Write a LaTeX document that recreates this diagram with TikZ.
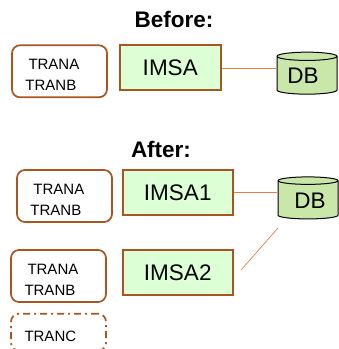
\documentclass[tikz,border=0pt]{standalone}
\usepackage{fontspec}
\setmainfont{Liberation Sans}
\usetikzlibrary{positioning,shapes.geometric}
\definecolor{boxbrown}{HTML}{A9551F}
\definecolor{imsagreen}{HTML}{DDFFD5}
\definecolor{dbgreen}{HTML}{C9E7A9}
\definecolor{linkorange}{HTML}{E8803F}
\begin{document}
\begin{tikzpicture}[x=1pt,y=1pt,
title/.style={font=\fontsize{22.5}{24}\selectfont\bfseries,inner sep=0pt},
tranbox/.style={draw=boxbrown,line width=1.7pt,rectangle,rounded corners=8pt,minimum width=95pt,minimum height=52pt,inner xsep=13pt,inner ysep=0pt,text width=68pt,align=left,font=\fontsize{15}{21}\selectfont,execute at begin node=\rule{0pt}{18pt}},
imsabox/.style={draw=boxbrown,line width=1.8pt,fill=imsagreen,rectangle,minimum height=45pt,inner sep=0pt,align=center,font=\fontsize{22.5}{24}\selectfont},
dbcyl/.style={shape=cylinder,draw=black,line width=1pt,fill=dbgreen,shape border rotate=90,shape aspect=.2,minimum width=60pt,minimum height=42pt,inner sep=1pt,font=\fontsize{22.5}{24}\selectfont},
link/.style={draw=linkorange,line width=.7pt}]
\useasboundingbox (0,0) rectangle (339,-349);
\node (before) [title] at (174,-19) {Before:};
\node (tranbefore) [tranbox] at (59.5,-71.3) {\hspace*{3pt}TRANA\\TRANB};
\node (imsa) [imsabox,minimum width=101pt,right=11pt of tranbefore.north east,anchor=north west] {IMSA};
\node (db) [dbcyl] at (307,-76) {DB\hspace*{8pt}};
\draw [link] (imsa.east) -- (imsa.east -| db.west);
\node (after) [title] at (161,-149) {After:};
\node (tranone) [tranbox] at (64.5,-196) {\hspace*{3pt}TRANA\\TRANB};
\node (imsaone) [imsabox,minimum width=110pt,right=9pt of tranone.north east,anchor=north west] {IMSA1};
\node (dbafter) [dbcyl] at (308,-200.5) {\hspace*{4pt}DB};
\draw [link] (imsaone.east) -- (imsaone.east -| dbafter.west);
\node (trantwo) [tranbox] at (58.5,-276) {\hspace*{3pt}TRANA\\TRANB};
\node (imsatwo) [imsabox,minimum width=110pt,right=15pt of trantwo.north east,anchor=north west] {IMSA2};
\coordinate (linkstart) at (278,-228);
\coordinate (linkend) at (241,-270);
\draw [link] (linkstart) -- (linkend);
\node (tranc) [tranbox,dash pattern=on 7pt off 4pt on 2pt off 4pt,minimum height=37pt,below=10pt of trantwo] {TRANC};
\end{tikzpicture}
\end{document}
